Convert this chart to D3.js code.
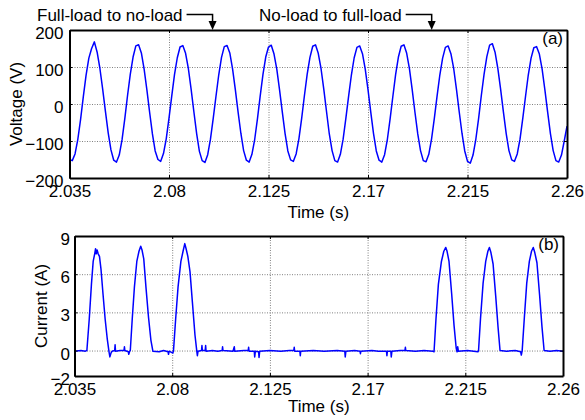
<!DOCTYPE html>
<html>
<head>
<meta charset="utf-8">
<script src="https://cdn.jsdelivr.net/npm/d3@7"></script>
<style>
  body { margin: 0; background: #fff; }
  svg text { font-family: Arial, "Liberation Sans", sans-serif; fill: #000; }
</style>
</head>
<body>
<div id="chart"></div>
<script>
// Time axis (shared by both panels)
const timeTicks = [2.035, 2.08, 2.125, 2.17, 2.215, 2.26];
const timeTickLabels = ["2.035", "2.08", "2.125", "2.17", "2.215", "2.26"];

// (a) Voltage, sampled every 1.25 ms from 2.035 s
const voltageStart = 2.035;
const voltageStep = 0.00125;
const voltage = [
    -150, -153, -135, -96, -42, 20, 78, 124, 150, 168, 140, 96, 40, -20, -78, -124,
    -152, -157, -138, -97, -40, 23, 81, 127, 157, 160, 138, 94, 38, -23, -81, -127,
    -150, -155, -134, -94, -38, 22, 80, 125, 154, 158, 137, 96, 40, -21, -80, -128,
    -153, -158, -137, -95, -39, 21, 79, 126, 155, 158, 138, 95, 39, -22, -79, -126,
    -152, -157, -136, -96, -40, 22, 80, 127, 154, 159, 135, 94, 38, -22, -80, -127,
    -151, -155, -135, -94, -39, 23, 81, 126, 156, 160, 137, 96, 40, -21, -81, -126,
    -153, -157, -136, -95, -38, 22, 79, 125, 153, 157, 136, 94, 39, -22, -80, -127,
    -152, -157, -137, -96, -40, 21, 80, 127, 156, 160, 137, 95, 38, -23, -81, -126,
    -153, -156, -136, -94, -39, 22, 79, 124, 153, 157, 136, 96, 40, -21, -79, -127,
    -155, -160, -138, -96, -40, 23, 81, 128, 159, 163, 139, 95, 39, -22, -80, -126,
    -151, -155, -135, -95, -39, 21, 79, 124, 152, 155, 135, 94, 38, -22, -80, -126,
    -153, -157, -138, -100, -60
];
const voltageTicks = [-200, -100, 0, 100, 200];

// (b) Current
const currentTime = [
    2.0350, 2.0380, 2.0400,
    2.0407, 2.0418, 2.0428, 2.0436, 2.0443, 2.0447, 2.0450, 2.0454, 2.0459, 2.0465, 2.0472, 2.0481, 2.0491, 2.0501, 2.0509, 2.0513, 2.0518, 2.0523,
    2.0535, 2.0537, 2.0539, 2.0560, 2.0578, 2.0580, 2.0582, 2.0598, 2.0600, 2.0604,
    2.0607, 2.0616, 2.0626, 2.0637, 2.0647, 2.0655, 2.0661, 2.0669, 2.0679, 2.0691, 2.0702, 2.0711,
    2.0740, 2.0760, 2.0781, 2.0783, 2.0786, 2.0803,
    2.0806, 2.0816, 2.0827, 2.0840, 2.0850, 2.0858, 2.0864, 2.0872, 2.0882, 2.0893, 2.0905, 2.0913, 2.0916, 2.0919,
    2.0935, 2.0937, 2.0939, 2.0952, 2.0954, 2.0956, 2.0985, 2.1010, 2.1030, 2.1032, 2.1034,
    2.1080, 2.1086, 2.1088, 2.1130, 2.1150, 2.1152, 2.1154, 2.1178, 2.1180, 2.1183, 2.1198, 2.1200, 2.1203,
    2.1250, 2.1300, 2.1340, 2.1360, 2.1362, 2.1364, 2.1388, 2.1390, 2.1392, 2.1450, 2.1500, 2.1560,
    2.1595, 2.1597, 2.1600, 2.1640, 2.1665, 2.1667, 2.1669, 2.1720, 2.1750, 2.1787, 2.1789, 2.1791,
    2.1807, 2.1809, 2.1812, 2.1850, 2.1872, 2.1874, 2.1876, 2.1920, 2.1960, 2.2000,
    2.2006, 2.2015, 2.2026, 2.2040, 2.2051, 2.2060, 2.2066, 2.2075, 2.2087, 2.2098, 2.2108, 2.2112, 2.2115, 2.2118,
    2.2160, 2.2208,
    2.2211, 2.2220, 2.2232, 2.2244, 2.2254, 2.2261, 2.2268, 2.2278, 2.2290, 2.2301, 2.2310,
    2.2340, 2.2380, 2.2405, 2.2408,
    2.2412, 2.2422, 2.2433, 2.2445, 2.2455, 2.2463, 2.2470, 2.2480, 2.2492, 2.2503, 2.2513,
    2.2540, 2.2570, 2.2600
];
const currentValue = [
    -0.05, 0, -0.05,
    0, 2.5, 5.2, 7.0, 7.6, 8.0, 7.6, 7.9, 7.6, 7.4, 6.4, 4.5, 2.5, 0.9, -0.1, -0.5, -0.2, -0.05,
    0, 0.45, -0.05, 0, 0, 0.3, 0, -0.1, -0.3, -0.05,
    0, 2.5, 5.0, 7.0, 7.8, 8.2, 7.9, 7.2, 5.0, 2.6, 0.8, -0.05,
    -0.1, 0, -0.1, -0.3, -0.05, -0.2,
    0, 2.5, 5.0, 7.0, 7.8, 8.4, 8.0, 7.4, 6.2, 3.8, 1.2, 0, -0.4, -0.05,
    0, 0.4, 0, 0, 0.4, -0.05, 0, -0.05, 0, 0.3, 0,
    -0.05, 0.3, -0.05, 0, 0, 0.25, -0.05, -0.05, -0.5, -0.05, -0.1, -0.55, -0.05,
    0, -0.05, 0, 0, 0.25, -0.05, -0.05, -0.4, -0.05, 0, -0.05, 0,
    -0.05, -0.5, -0.05, 0, -0.05, -0.25, -0.05, 0, -0.05, -0.05, -0.4, -0.05,
    -0.05, -0.5, -0.05, 0, 0, 0.25, 0, -0.05, 0, -0.05,
    -0.1, 2.5, 5.2, 7.0, 7.8, 8.1, 7.8, 7.0, 4.5, 2.0, 0.2, -0.1, 0.3, -0.05,
    0, -0.1,
    0, 2.5, 5.3, 7.0, 7.8, 8.1, 7.7, 6.8, 4.3, 1.8, 0,
    -0.05, 0, -0.1, -0.35,
    0, 2.6, 5.3, 7.0, 7.8, 8.1, 7.7, 6.9, 4.4, 1.9, 0,
    -0.05, 0, -0.05
];
const currentTicks = [-2, 0, 3, 6, 9];

// Switching instants marked above panel (a)
const eventLabels = ["Full-load to no-load", "No-load to full-load"];
const eventTimes = [2.0997, 2.1988];

const width = 585, height = 420;
const fontSize = 17;
const traceColor = "#0000ff";

const svg = d3.select("#chart").append("svg")
    .attr("width", width)
    .attr("height", height);

// Draws one panel: box, grid, ticks, labels and trace
function drawPanel(opts) {
    const x = d3.scaleLinear().domain([2.035, 2.26]).range([opts.left, opts.right]);
    const y = d3.scaleLinear().domain(opts.yDomain).range([opts.bottom, opts.top]);
    const g = svg.append("g");
    const w = opts.right - opts.left, h = opts.bottom - opts.top;

    // Grid (interior ticks only)
    const innerX = timeTicks.slice(1, -1);
    const innerY = opts.yTicks.filter(v => v !== opts.yDomain[0] && v !== opts.yDomain[1]);
    g.append("g")
        .attr("transform", `translate(0,${opts.bottom})`)
        .call(d3.axisBottom(x).tickValues(innerX).tickSize(-h).tickFormat(""))
        .call(a => a.select(".domain").remove())
        .call(a => a.selectAll("line").attr("stroke", "#808080").attr("stroke-dasharray", "1,1.5"));
    g.append("g")
        .attr("transform", `translate(${opts.left},0)`)
        .call(d3.axisLeft(y).tickValues(innerY).tickSize(-w).tickFormat(""))
        .call(a => a.select(".domain").remove())
        .call(a => a.selectAll("line").attr("stroke", "#808080").attr("stroke-dasharray", "1,1.5"));

    // Trace
    const clipId = "clip-" + opts.name;
    svg.append("clipPath").attr("id", clipId)
        .append("rect").attr("x", opts.left).attr("y", opts.top).attr("width", w).attr("height", h);
    const line = d3.line().x(d => x(d[0])).y(d => y(d[1]));
    g.append("path")
        .datum(opts.points)
        .attr("clip-path", `url(#${clipId})`)
        .attr("fill", "none")
        .attr("stroke", traceColor)
        .attr("stroke-width", 1.5)
        .attr("stroke-linejoin", "round")
        .attr("d", line);

    // Axes with inward ticks on all four sides
    const styleAxis = a => {
        a.select(".domain").attr("stroke", "#000").attr("stroke-width", 2);
        a.selectAll(".tick line").attr("stroke", "#000").attr("stroke-width", 1);
        a.selectAll(".tick text").attr("font-size", fontSize).attr("fill", "#000")
            .attr("font-family", "Arial, 'Liberation Sans', sans-serif");
    };
    g.append("g")
        .attr("transform", `translate(0,${opts.bottom})`)
        .call(d3.axisBottom(x).tickValues(timeTicks).tickSizeInner(-3).tickSizeOuter(0).tickPadding(6.5)
            .tickFormat((d, i) => timeTickLabels[i]))
        .call(styleAxis);
    g.append("g")
        .attr("transform", `translate(0,${opts.top})`)
        .call(d3.axisTop(x).tickValues(timeTicks).tickSizeInner(-3).tickSizeOuter(0).tickFormat(""))
        .call(styleAxis);
    g.append("g")
        .attr("transform", `translate(${opts.left},0)`)
        .call(d3.axisLeft(y).tickValues(opts.yTicks).tickSizeInner(-3).tickSizeOuter(0).tickPadding(opts.yPad))
        .call(styleAxis)
        .call(a => a.selectAll(".tick text").attr("dy", "0.5em"));
    g.append("g")
        .attr("transform", `translate(${opts.right},0)`)
        .call(d3.axisRight(y).tickValues(opts.yTicks).tickSizeInner(-3).tickSizeOuter(0).tickFormat(""))
        .call(styleAxis);

    // Axis titles
    g.append("text")
        .attr("x", (opts.left + opts.right) / 2)
        .attr("y", opts.bottom + opts.xTitleGap)
        .attr("text-anchor", "middle")
        .attr("font-size", fontSize)
        .text("Time (s)");
    g.append("text")
        .attr("transform", `translate(${opts.yTitleX},${(opts.top + opts.bottom) / 2}) rotate(-90)`)
        .attr("text-anchor", "middle")
        .attr("font-size", fontSize)
        .text(opts.yTitle);

    // Panel tag
    g.append("text")
        .attr("x", opts.right - 4)
        .attr("y", opts.top + 14)
        .attr("text-anchor", "end")
        .attr("font-size", fontSize)
        .text(opts.tag);

    return { x, y };
}

const panelA = drawPanel({
    name: "a",
    left: 69.5, right: 567, top: 30, bottom: 178,
    yDomain: [-200, 200], yTicks: voltageTicks, yPad: 6,
    yTitle: "Voltage (V)", yTitleX: 22, xTitleGap: 40, tag: "(a)",
    points: voltage.map((v, i) => [voltageStart + i * voltageStep, v])
});

drawPanel({
    name: "b",
    left: 74.5, right: 563, top: 236, bottom: 376,
    yDomain: [-2, 9], yTicks: currentTicks, yPad: 4.5,
    yTitle: "Current (A)", yTitleX: 47, xTitleGap: 35.5, tag: "(b)",
    points: currentTime.map((t, i) => [t, currentValue[i]])
});

// Annotations with arrows pointing to the switching instants
const arrowY = 14.5;
eventLabels.forEach((label, i) => {
    const ax = panelA.x(eventTimes[i]);
    const t = svg.append("text")
        .attr("x", ax - 30)
        .attr("y", 21)
        .attr("text-anchor", "end")
        .attr("font-size", fontSize)
        .text(label);
    svg.append("path")
        .attr("d", `M${ax - 26},${arrowY}H${ax}V${25}`)
        .attr("fill", "none")
        .attr("stroke", "#000")
        .attr("stroke-width", 1.5);
    svg.append("path")
        .attr("d", `M${ax - 4},${21}L${ax + 4},${21}L${ax},${30}Z`)
        .attr("fill", "#000");
});
</script>
</body>
</html>
